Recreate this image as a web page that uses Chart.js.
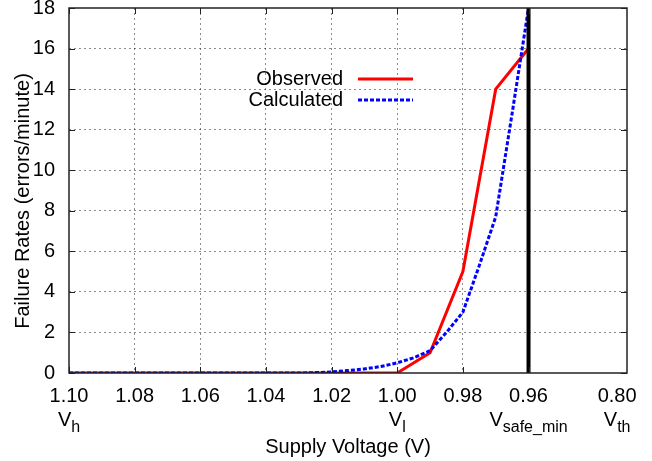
<!DOCTYPE html>
<html>
<head>
<meta charset="utf-8">
<script src="https://cdn.jsdelivr.net/npm/chart.js@4/dist/chart.umd.min.js"></script>
<style>
  html, body { margin: 0; padding: 0; background: #fff; }
  #wrap { width: 652px; height: 461px; }
</style>
</head>
<body>
<div id="wrap"><canvas id="grafico" width="652" height="461"></canvas></div>
<script>
// Datos
const obsVoltage = [1.10, 1.08, 1.06, 1.04, 1.02, 1.00, 0.99, 0.98, 0.97, 0.96];
const obsRate = [0, 0, 0, 0, 0, 0, 1, 5, 14, 16];

const calcVoltage = [1.10, 1.08, 1.06, 1.04, 1.03, 1.025, 1.02, 1.015, 1.01, 1.005, 1.00,
  0.995, 0.99, 0.985, 0.98, 0.975, 0.97, 0.965, 0.96];
const calcRate = [0, 0, 0, 0, 0, 0.02, 0.05, 0.12, 0.2, 0.32, 0.5,
  0.75, 1.1, 2.0, 3.0, 5.3, 7.7, 12.8, 18];

// Ticks del eje X (el ultimo se etiqueta 0.80)
const voltageTicks = [1.10, 1.08, 1.06, 1.04, 1.02, 1.00, 0.98, 0.96, 0.933];
const voltageTickLabels = ["1.10", "1.08", "1.06", "1.04", "1.02", "1.00", "0.98", "0.96", "0.80"];

// Nombres de voltajes bajo los ticks
const namedVoltages = [1.10, 1.00, 0.96, 0.933];
const namedSubs = ["h", "l", "safe_min", "th"];

const rateTicks = [0, 2, 4, 6, 8, 10, 12, 14, 16, 18];
const safeMinVoltage = 0.96;
const yTitle = "Failure Rates (errors/minute)";

const FONT = "'Liberation Sans', Arial, Helvetica, sans-serif";
const gridColor = "rgba(0,0,0,0.45)";

// Plugin: marco, ticks internos, linea vertical, leyenda y nombres V
const decoraciones = {
  id: "decoraciones",
  afterDatasetsDraw(chart) {
    const { ctx, chartArea } = chart;
    const xs = chart.scales.x;

    // linea vertical de Vsafe_min
    const xv = xs.getPixelForValue(safeMinVoltage);
    ctx.save();
    ctx.strokeStyle = "#000";
    ctx.lineWidth = 4;
    ctx.beginPath();
    ctx.moveTo(xv, chartArea.top);
    ctx.lineTo(xv, chartArea.bottom);
    ctx.stroke();
    ctx.restore();
  },
  afterDraw(chart) {
    const { ctx, chartArea } = chart;
    const xs = chart.scales.x;
    const ys = chart.scales.y;
    const tickLen = 6;

    ctx.save();
    // ticks internos
    ctx.strokeStyle = "#222";
    ctx.lineWidth = 1;
    ctx.beginPath();
    voltageTicks.slice(0, -1).forEach((v) => {
      const px = Math.round(xs.getPixelForValue(v)) + 0.5;
      ctx.moveTo(px, chartArea.bottom);
      ctx.lineTo(px, chartArea.bottom - tickLen);
      ctx.moveTo(px, chartArea.top);
      ctx.lineTo(px, chartArea.top + tickLen);
    });
    rateTicks.forEach((r) => {
      const py = Math.round(ys.getPixelForValue(r)) + 0.5;
      ctx.moveTo(chartArea.left, py);
      ctx.lineTo(chartArea.left + tickLen, py);
      ctx.moveTo(chartArea.right, py);
      ctx.lineTo(chartArea.right - tickLen, py);
    });
    ctx.stroke();

    // marco
    ctx.strokeStyle = "#222";
    ctx.lineWidth = 1.5;
    ctx.strokeRect(chartArea.left, chartArea.top,
      chartArea.right - chartArea.left, chartArea.bottom - chartArea.top);

    // titulo del eje Y
    ctx.fillStyle = "#000";
    ctx.font = "20px " + FONT;
    ctx.save();
    ctx.translate(23, 201);
    ctx.rotate(-Math.PI / 2);
    ctx.textAlign = "center";
    ctx.textBaseline = "middle";
    ctx.fillText(yTitle, 0, 0);
    ctx.restore();

    // nombres V con subindice
    ctx.textBaseline = "alphabetic";
    ctx.textAlign = "left";
    namedVoltages.forEach((v, i) => {
      ctx.font = "20px " + FONT;
      const wV = ctx.measureText("V").width;
      ctx.font = "16px " + FONT;
      const wS = ctx.measureText(namedSubs[i]).width;
      const x0 = xs.getPixelForValue(v) - (wV + wS) / 2;
      ctx.font = "20px " + FONT;
      ctx.fillText("V", x0, 426);
      ctx.font = "16px " + FONT;
      ctx.fillText(namedSubs[i], x0 + wV, 432);
    });

    // leyenda (texto a la izquierda, muestra a la derecha)
    ctx.font = "20px " + FONT;
    ctx.textAlign = "right";
    ctx.textBaseline = "middle";
    chart.data.datasets.forEach((ds, i) => {
      const y = 79 + i * 21;
      ctx.fillStyle = "#000";
      ctx.fillText(ds.label, 343, y);
      ctx.strokeStyle = ds.borderColor;
      ctx.lineWidth = ds.borderWidth;
      ctx.setLineDash(ds.borderDash || []);
      ctx.beginPath();
      ctx.moveTo(358, y);
      ctx.lineTo(413, y);
      ctx.stroke();
      ctx.setLineDash([]);
    });
    ctx.restore();
  },
};

const config = {
  type: "line",
  data: {
    datasets: [
      {
        label: "Observed",
        data: obsVoltage.map((v, i) => ({ x: v, y: obsRate[i] })),
        borderColor: "#ff0000",
        borderWidth: 3,
        pointRadius: 0,
        fill: false,
        order: 2,
      },
      {
        label: "Calculated",
        data: calcVoltage.map((v, i) => ({ x: v, y: calcRate[i] })),
        borderColor: "#0000ff",
        borderWidth: 3,
        borderDash: [4, 2],
        pointRadius: 0,
        fill: false,
        order: 1,
      },
    ],
  },
  options: {
    responsive: false,
    animation: false,
    layout: { padding: { left: 0, right: 25, top: 8, bottom: 0 } },
    plugins: {
      legend: { display: false },
      tooltip: { enabled: false },
    },
    scales: {
      x: {
        type: "linear",
        reverse: true,
        min: 0.93,
        max: 1.10,
        afterBuildTicks: (scale) => {
          scale.ticks = voltageTicks.map((v) => ({ value: v }));
        },
        afterFit: (scale) => {
          scale.height = 88;
          scale.paddingLeft = 0;
          scale.paddingRight = 0;
        },
        ticks: {
          autoSkip: false,
          maxRotation: 0,
          padding: 11,
          color: "#000",
          font: { family: FONT, size: 20 },
          callback: (value, index) => voltageTickLabels[index],
        },
        grid: {
          drawTicks: false,
          color: (ctx) =>
            ctx.index === 0 || ctx.index === voltageTicks.length - 1 ? "rgba(0,0,0,0)" : gridColor,
          lineWidth: 1,
          borderDash: [2, 3],
        },
        border: { display: false, dash: [2, 3] },
        title: {
          display: true,
          text: "Supply Voltage (V)",
          color: "#000",
          font: { family: FONT, size: 20 },
          padding: { top: 0, bottom: 2 },
        },
      },
      y: {
        min: 0,
        max: 18,
        afterBuildTicks: (scale) => {
          scale.ticks = rateTicks.map((v) => ({ value: v }));
        },
        afterFit: (scale) => {
          scale.width = 69;
          scale.paddingTop = 0;
          scale.paddingBottom = 0;
        },
        ticks: {
          padding: 14,
          color: "#000",
          font: { family: FONT, size: 20 },
        },
        grid: {
          drawTicks: false,
          color: (ctx) =>
            ctx.index === 0 || ctx.index === rateTicks.length - 1 ? "rgba(0,0,0,0)" : gridColor,
          lineWidth: 1,
          borderDash: [2, 3],
        },
        border: { display: false, dash: [2, 3] },
      },
    },
  },
  plugins: [decoraciones],
};

const grafico = new Chart(document.getElementById("grafico"), config);
</script>
</body>
</html>
